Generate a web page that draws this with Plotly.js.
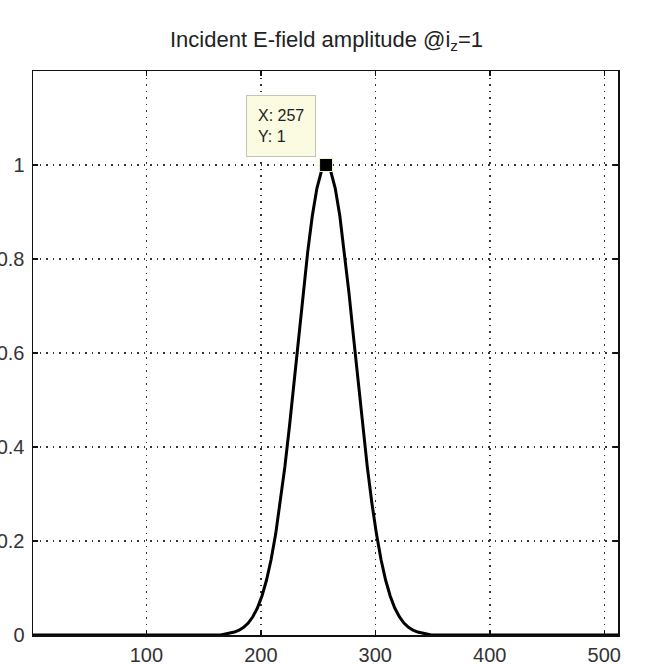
<!DOCTYPE html>
<html>
<head>
<meta charset="utf-8">
<script src="https://cdn.plot.ly/plotly-3.0.1.min.js"></script>
<style>html,body{margin:0;padding:0;background:#fff;}#chart{width:661px;height:664px;}</style>
</head>
<body>
<div id="chart"></div>
<script>
// Sample index (i) and incident E-field amplitude
const sampleIdx = [1, 60, 120, 165, 169, 173, 177, 181, 185, 189, 193, 197, 201, 205, 209, 213, 217, 221, 225, 229, 233, 237, 241, 245, 249, 253, 257,
  261, 265, 269, 273, 277, 281, 285, 289, 293, 297, 301, 305, 309, 313, 317, 321, 325, 329, 333, 337, 341, 345, 349, 400, 460, 512];
const amplitude = [0, 0, 0, 0, 0.0021, 0.0037, 0.0062, 0.0102, 0.0164, 0.0255, 0.0388, 0.0574, 0.083, 0.117, 0.1607, 0.2152, 0.281, 0.3576, 0.4437, 0.5368, 0.6332, 0.728, 0.8162, 0.892, 0.9505, 0.9874, 1,
  0.9874, 0.9505, 0.892, 0.8162, 0.728, 0.6332, 0.5368, 0.4437, 0.3576, 0.281, 0.2152, 0.1607, 0.117, 0.083, 0.0574, 0.0388, 0.0255, 0.0164, 0.0102, 0.0062, 0.0037, 0.0021, 0, 0, 0, 0];
const peakX = [257];
const peakY = [1];
const xTicks = [100, 200, 300, 400, 500];
const yTicks = [0, 0.2, 0.4, 0.6, 0.8, 1];
const yTickLabels = ['0', '0.2', '0.4', '0.6', '0.8', '1'];
const titleText = 'Incident E-field amplitude @i<sub>z</sub>=1';
const tipText = 'X: ' + peakX[0] + '<br>Y: ' + peakY[0];

const font = 'Liberation Sans, Arial, Helvetica, sans-serif';

const traces = [
  {x: sampleIdx, y: amplitude, type: 'scatter', mode: 'lines',
   line: {color: '#000', width: 3}, hoverinfo: 'skip'},
  {x: peakX, y: peakY, type: 'scatter', mode: 'markers',
   marker: {symbol: 'square', size: 13, color: '#000', line: {color: '#f4f4c0', width: 1}}, hoverinfo: 'skip'}
];

const axisCommon = {
  showline: true, linecolor: '#111', linewidth: 1.5, mirror: 'allticks',
  ticks: 'inside', ticklen: 5, tickcolor: '#111', tickwidth: 1.5,
  showgrid: true, gridcolor: '#333', griddash: '1.5px,5px', gridwidth: 1.5,
  zeroline: false, tickfont: {family: font, size: 20, color: '#333'}
};

const layout = {
  width: 661, height: 664,
  margin: {l: 33, r: 43, t: 71, b: 29},
  paper_bgcolor: '#fff', plot_bgcolor: '#fff',
  showlegend: false,
  title: {text: titleText, font: {family: font, size: 22, color: '#222'}, x: 0.494, xanchor: 'center', y: 0.941, yanchor: 'middle'},
  xaxis: Object.assign({}, axisCommon, {range: [1, 512], tickmode: 'array', tickvals: xTicks, ticktext: xTicks.map(String), ticklabelstandoff: 1}),
  yaxis: Object.assign({}, axisCommon, {range: [0, 1.2], tickmode: 'array', tickvals: yTicks, ticktext: yTickLabels, ticklabelstandoff: 3}),
  annotations: [{
    x: peakX[0], y: peakY[0], xref: 'x', yref: 'y', text: tipText, showarrow: false,
    align: 'left', xanchor: 'right', yanchor: 'bottom', xshift: -10, yshift: 8,
    bgcolor: '#fbfbe2', bordercolor: '#c4c4b4', borderwidth: 1, borderpad: 11,
    font: {family: font, size: 16, color: '#222'}
  }]
};

Plotly.newPlot('chart', traces, layout, {displayModeBar: false, staticPlot: true});
</script>
</body>
</html>
